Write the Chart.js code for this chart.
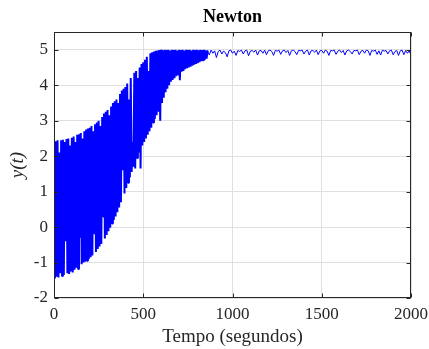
<!DOCTYPE html>
<html>
<head>
<meta charset="utf-8">
<script src="https://cdn.jsdelivr.net/npm/chart.js@4"></script>
<style>
  html, body { margin: 0; padding: 0; background: #fff; }
  canvas { display: block; }
</style>
</head>
<body>
<canvas id="grafico" width="429" height="349"></canvas>
<script>
// campionamento: picchi a t = 0,10,...,850 ; minimi a t = 5,15,...,855 ; coda da 860 a 2000
const passo = 10;
const inizioCoda = 860;

// picchi (massimi) della fase oscillante
const picchi = [
  0.2, 2.42, 2.45, 2.1, 2.45, 2.46, 2.4, 2.48, 2.5, 2.3,
  2.52, 2.55, 2.4, 2.6, 2.62, 2.65, 2.5, 2.7, 2.75, 2.78,
  2.8, 2.85, 2.7, 2.9, 2.95, 3.0, 2.85, 3.1, 3.2, 3.25,
  3.3, 3.15, 3.4, 3.5, 3.55, 3.6, 3.5, 3.75, 3.85, 3.9,
  3.95, 4.05, 3.6, 4.2, 2.4, 4.35, 4.4, 4.2, 4.5, 4.6,
  4.65, 4.72, 4.8, 4.4, 4.9, 4.93, 4.95, 4.97, 4.98, 4.99,
  5.0, 4.98, 5.0, 4.99, 5.0, 4.98, 5.0, 4.99, 5.0, 4.98,
  5.0, 4.99, 5.0, 4.98, 5.0, 4.99, 5.0, 4.98, 5.0, 4.99,
  5.0, 4.98, 5.0, 4.99, 5.0, 4.98
];

// minimi della fase oscillante
const minimi = [
  -1.45, -1.4, -1.42, -1.3, -1.38, -1.35, -0.4, -1.3, -1.32, -1.25,
  -1.28, -1.2, -1.15, -1.18, -0.3, -1.05, -1.0, -0.98, -0.95, -0.9,
  -0.85, -0.8, -0.2, -0.7, -0.62, -0.55, -0.48, 0.3, -0.32, -0.22,
  -0.12, -0.02, 0.1, 0.2, 0.3, 0.42, 0.55, 0.7, 1.6, 0.95,
  1.1, 1.25, 1.4, 1.55, 1.7, 1.65, 1.95, 2.1, 1.65, 2.3,
  2.4, 2.5, 2.6, 2.7, 2.8, 2.95, 3.05, 3.15, 3.25, 3.0,
  3.5, 3.65, 3.8, 3.9, 4.0, 4.1, 4.15, 4.2, 4.25, 4.3,
  4.14, 4.38, 4.4, 4.45, 4.48, 4.5, 4.52, 4.55, 4.58, 4.6,
  4.62, 4.65, 4.68, 4.7, 4.72, 4.75
];

// coda quasi stazionaria vicino a 5
const coda = [
  4.98, 4.85, 4.99, 4.9, 4.97, 4.78, 4.95, 4.99, 4.88, 4.96,
  4.92, 4.8, 4.97, 4.99, 4.9, 4.96, 4.84, 4.98, 4.95, 4.99,
  4.88, 4.97, 4.99, 4.83, 4.96, 4.98, 4.93, 4.99, 4.85, 4.97,
  4.98, 4.9, 4.99, 4.86, 4.97, 4.99, 4.95, 4.84, 4.98, 4.96,
  4.99, 4.87, 4.97, 4.99, 4.92, 4.98, 4.84, 4.97, 4.99, 4.95,
  4.86, 4.98, 4.97, 4.99, 4.88, 4.96, 4.99, 4.85, 4.97, 4.98,
  4.93, 4.99, 4.86, 4.97, 4.98, 4.9, 4.99, 4.96, 4.84, 4.98,
  4.97, 4.99, 4.87, 4.96, 4.99, 4.92, 4.98, 4.85, 4.97, 4.99,
  4.95, 4.88, 4.98, 4.97, 4.99, 4.86, 4.96, 4.98, 4.9, 4.99,
  4.97, 4.84, 4.98, 4.96, 4.99, 4.87, 4.97, 4.85, 4.99, 4.96,
  4.98, 4.88, 4.97, 4.99, 4.86, 4.95, 4.98, 4.84, 4.97, 4.99,
  4.86, 4.98, 4.9, 4.97, 4.85
];

const xTicks = [0, 500, 1000, 1500, 2000];
const yTicks = [-2, -1, 0, 1, 2, 3, 4, 5];

// unisco picchi e minimi alternati, poi la coda
let punti = [];
for (let i = 0; i < picchi.length; i++) {
    punti.push({ x: i * passo, y: picchi[i] });
    if (i < minimi.length) punti.push({ x: i * passo + passo / 2, y: minimi[i] });
}
coda.forEach((v, i) => punti.push({ x: inizioCoda + i * passo, y: v }));

const coloreAssi = '#262626';
const serif = "'Liberation Serif', 'Times New Roman', serif";

// box stile MATLAB con tacche verso l'interno
const boxPlugin = {
    id: 'boxMatlab',
    afterDraw(chart) {
        const { ctx, chartArea: a, scales } = chart;
        const l = Math.round(a.left) + 0.5, r = Math.round(a.right) - 0.5;
        const t = Math.round(a.top) + 0.5, b = Math.round(a.bottom) - 0.5;
        ctx.save();
        ctx.strokeStyle = coloreAssi;
        ctx.lineWidth = 1;
        ctx.strokeRect(l, t, r - l, b - t);
        ctx.beginPath();
        xTicks.forEach(v => {
            const px = Math.round(scales.x.getPixelForValue(v)) + 0.5;
            ctx.moveTo(px, b); ctx.lineTo(px, b - 4);
            ctx.moveTo(px, t); ctx.lineTo(px, t + 4);
        });
        yTicks.forEach(v => {
            const py = Math.round(scales.y.getPixelForValue(v)) + 0.5;
            ctx.moveTo(l, py); ctx.lineTo(l + 4, py);
            ctx.moveTo(r, py); ctx.lineTo(r - 4, py);
        });
        ctx.stroke();
        ctx.restore();
    }
};

new Chart(document.getElementById('grafico').getContext('2d'), {
    type: 'line',
    data: {
        datasets: [{
            label: 'y(t)',
            data: punti,
            borderColor: '#0000ff',
            borderWidth: 1,
            borderJoinStyle: 'bevel',
            pointRadius: 0,
            tension: 0,
            fill: false,
            // fase oscillante piu' fitta: tratto piu' spesso per riempire come nell'originale
            segment: {
                borderWidth: c => c.p0.parsed.x < inizioCoda ? 2 : 1
            }
        }]
    },
    options: {
        responsive: false,
        animation: false,
        devicePixelRatio: 1,
        layout: { padding: { left: 0, right: 18, top: 0, bottom: 0 } },
        plugins: {
            legend: { display: false },
            tooltip: { enabled: false },
            title: {
                display: true,
                text: 'Newton',
                fullSize: false,
                color: '#000',
                font: { family: serif, size: 18, weight: 'bold' },
                padding: { top: 7, bottom: 3.4 }
            }
        },
        scales: {
            x: {
                type: 'linear',
                min: 0,
                max: 2000,
                afterFit(scale) {
                    scale.height = 51;
                    scale.paddingLeft = 0;
                    scale.paddingRight = 0;
                },
                afterBuildTicks(scale) { scale.ticks = xTicks.map(v => ({ value: v })); },
                grid: { color: '#e0e0e0', drawTicks: false },
                border: { display: false },
                ticks: {
                    color: coloreAssi,
                    padding: 6,
                    maxRotation: 0,
                    font: { family: serif, size: 17 },
                    callback: v => String(v)
                },
                title: {
                    display: true,
                    text: 'Tempo (segundos)',
                    color: coloreAssi,
                    font: { family: serif, size: 19 },
                    padding: { top: 0, bottom: 1 }
                }
            },
            y: {
                type: 'linear',
                min: -2,
                max: 5.5,
                afterFit(scale) {
                    scale.width = 54;
                    scale.paddingTop = 0;
                    scale.paddingBottom = 0;
                },
                afterBuildTicks(scale) { scale.ticks = yTicks.map(v => ({ value: v })); },
                grid: { color: '#e0e0e0', drawTicks: false },
                border: { display: false },
                ticks: {
                    color: coloreAssi,
                    padding: 6,
                    font: { family: serif, size: 17 },
                    callback: v => String(v)
                },
                title: {
                    display: true,
                    text: 'y(t)',
                    color: coloreAssi,
                    font: { family: serif, size: 19, style: 'italic' },
                    padding: { top: 7, bottom: 0 }
                }
            }
        }
    },
    plugins: [boxPlugin]
});
</script>
</body>
</html>
